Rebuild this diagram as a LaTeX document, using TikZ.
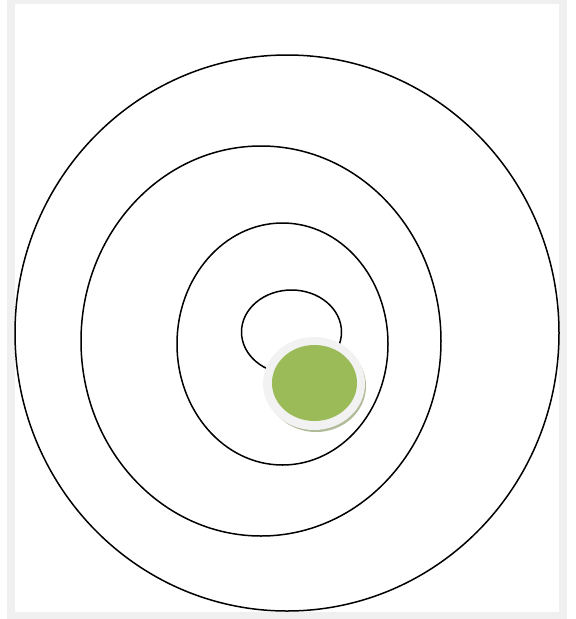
\documentclass[tikz,border=0pt]{standalone}
\usepackage{xcolor}
\usepackage{tikz}
\definecolor{framegrey}{HTML}{F0F0F0}
\definecolor{rimgrey}{HTML}{F2F2F2}
\definecolor{discgreen}{HTML}{9BBB59}
\definecolor{shadowgreen}{HTML}{A8B38E}
\tikzset{
  ring/.style={draw=black, line width=1.5pt},
  rim/.style={fill=rimgrey, draw=none},
  disc/.style={fill=discgreen, draw=none},
  discshadow/.style={fill=shadowgreen, draw=none, opacity=0.9},
}

\begin{document}
\begin{tikzpicture}[x=1pt, y=-1pt]
\useasboundingbox (0,0) rectangle (576,619);

% ---------------- frame ---------------------------------------------------
\draw[framegrey, line width=8pt] (11,0) rectangle (563,615.5);

% ---------------- the rings, outside in -----------------------------------
\draw[ring] (287,333) ellipse [x radius=272, y radius=278];
\draw[ring] (261,341) ellipse [x radius=180, y radius=195];
\draw[ring] (282.5,344) ellipse [x radius=105.5, y radius=121];
\draw[ring] (291.5,332) ellipse [x radius=50, y radius=42];

% ---------------- the disc ------------------------------------------------
\fill[discshadow] (316,386) ellipse [x radius=50, y radius=46];
\fill[rim] (314,383.5) ellipse [x radius=51, y radius=46.5];
\fill[disc] (314.5,383) ellipse [x radius=42.5, y radius=38];
\end{tikzpicture}
\end{document}
